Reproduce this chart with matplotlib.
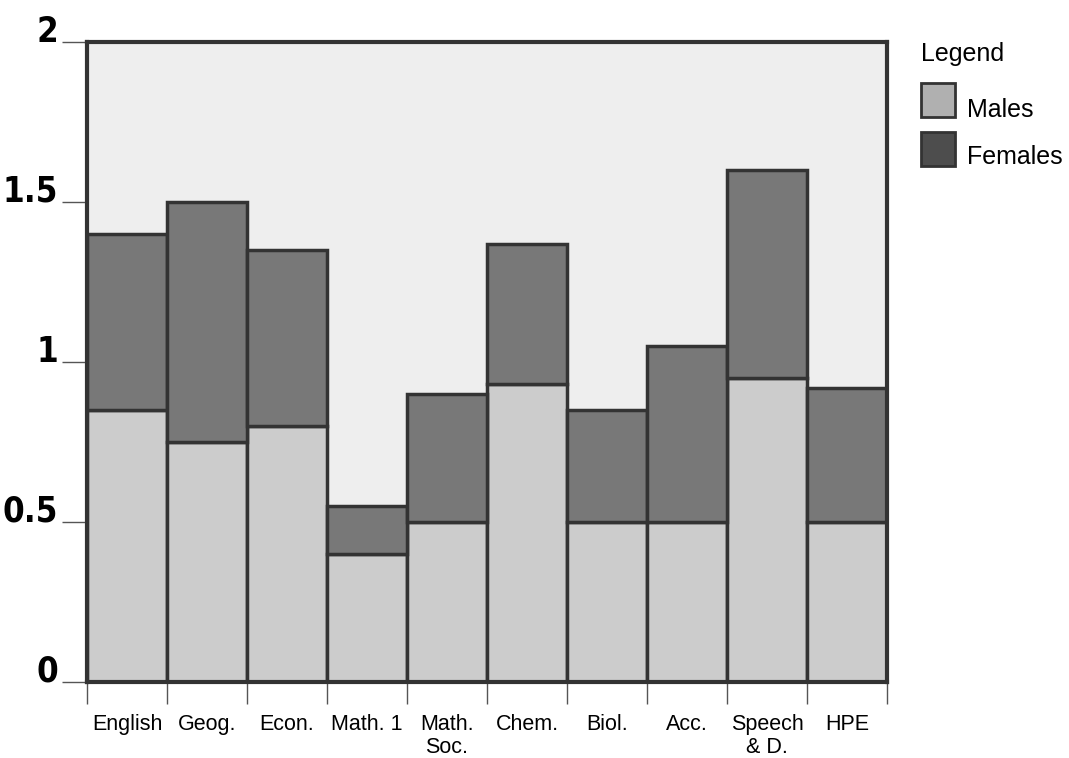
import matplotlib
matplotlib.use("Agg")
import matplotlib.pyplot as plt
from matplotlib.patches import Rectangle
import numpy as np

# values
subjects = ["English", "Geog.", "Econ.", "Math. 1", "Math.\nSoc.",
            "Chem.", "Biol.", "Acc.", "Speech\n& D.", "HPE"]
males = [0.85, 0.75, 0.80, 0.40, 0.50, 0.93, 0.50, 0.50, 0.95, 0.50]
totals = [1.40, 1.50, 1.35, 0.55, 0.90, 1.37, 0.85, 1.05, 1.60, 0.92]
females = [t - m for t, m in zip(totals, males)]
yticks = [0, 0.5, 1, 1.5, 2]
ytick_labels = ["0", "0.5", "1", "1.5", "2"]

edge = "#333333"
male_col = "#cccccc"
female_col = "#787878"

fig = plt.figure(figsize=(10.69, 7.58), dpi=100)
ax = fig.add_axes([87/1069, 1-682/758, 800/1069, 640/758])
ax.set_facecolor("#eeeeee")

x = np.arange(len(subjects))
ax.bar(x, males, width=1.0, align="edge", color=male_col,
       edgecolor=edge, linewidth=2.5)
ax.bar(x, females, bottom=males, width=1.0, align="edge", color=female_col,
       edgecolor=edge, linewidth=2.5)

ax.set_xlim(0, len(subjects))
ax.set_ylim(0, 2)

for s in ax.spines.values():
    s.set_linewidth(3)
    s.set_color(edge)

# y axis
ax.set_yticks(yticks)
ax.set_yticklabels(ytick_labels, fontfamily="DejaVu Sans", fontstretch="condensed",
                   fontweight="heavy", fontsize=25)
for lab in ax.get_yticklabels():
    lab.set_verticalalignment("baseline")
ax.tick_params(axis="y", length=18, width=1, color="#555555", pad=3)

# x axis: ticks at the bar edges, labels in the middle
ax.set_xticks(np.arange(len(subjects) + 1))
ax.set_xticklabels([])
ax.set_xticks(x + 0.5, minor=True)
ax.set_xticklabels(subjects, minor=True, fontfamily="Liberation Sans",
                   fontsize=15.5, linespacing=1.15)
ax.tick_params(axis="x", which="major", length=16, width=1, color="#555555")
ax.tick_params(axis="x", which="minor", length=0, pad=23)
for lab in ax.get_xticklabels(minor=True):
    lab.set_verticalalignment("top")

# legend box on the right
fig.text(921/1069, 1-54/758, "Legend", fontfamily="Liberation Sans",
         fontsize=18, va="center", ha="left")
fig.patches.append(Rectangle((921/1069, 1-117/758), 34/1069, 34/758,
                             transform=fig.transFigure, facecolor="#b0b0b0",
                             edgecolor=edge, linewidth=2))
fig.patches.append(Rectangle((921/1069, 1-166/758), 34/1069, 34/758,
                             transform=fig.transFigure, facecolor="#4d4d4d",
                             edgecolor=edge, linewidth=2))
fig.text(967/1069, 1-110/758, "Males", fontfamily="Liberation Sans",
         fontsize=18, va="center", ha="left")
fig.text(967/1069, 1-157/758, "Females", fontfamily="Liberation Sans",
         fontsize=18, va="center", ha="left")

fig.savefig("out.png", dpi=100)
